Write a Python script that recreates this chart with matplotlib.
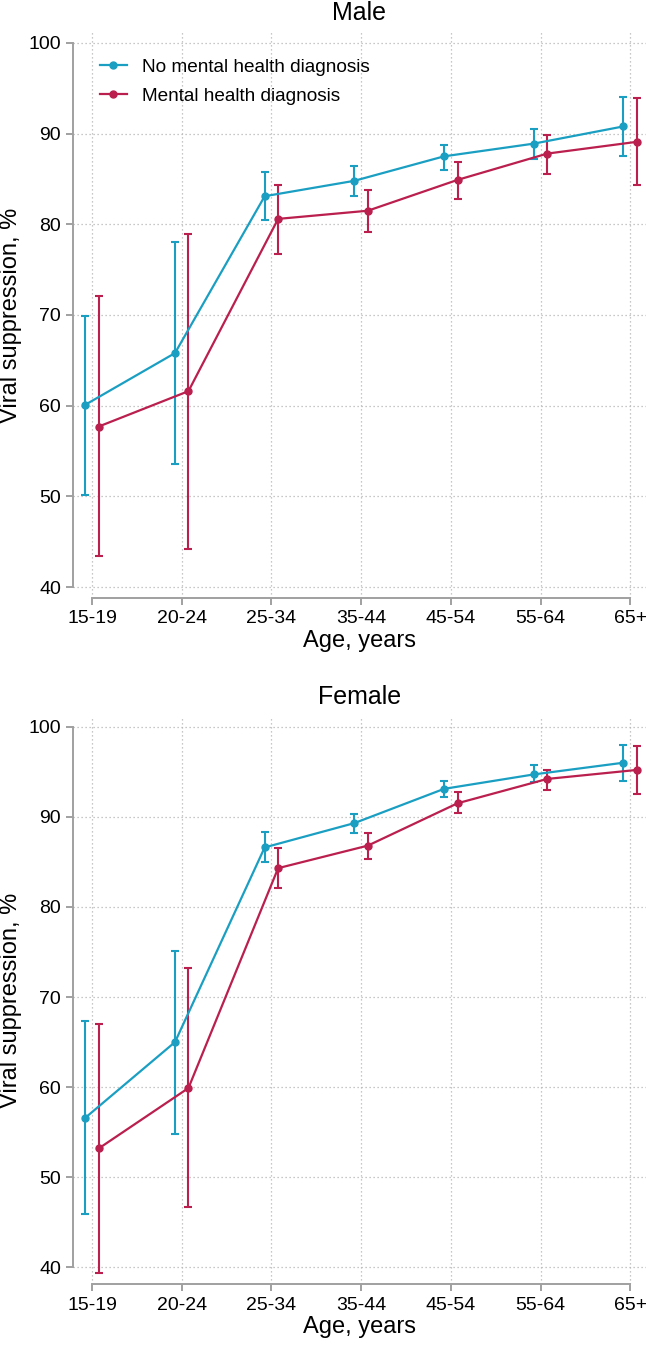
import matplotlib
matplotlib.use("Agg")
import matplotlib.pyplot as plt
import numpy as np

plt.rcParams["font.family"] = ["Liberation Sans", "DejaVu Sans"]

AGE_GROUPS = ["15-19", "20-24", "25-34", "35-44", "45-54", "55-64", "65+"]

# Male
male_no_mh = [60.1, 65.8, 83.1, 84.8, 87.5, 88.9, 90.8]
male_no_mh_lo = [50.2, 53.6, 80.5, 83.1, 86.0, 87.2, 87.5]
male_no_mh_hi = [69.9, 78.1, 85.8, 86.4, 88.8, 90.5, 94.0]
male_mh = [57.7, 61.6, 80.6, 81.5, 84.9, 87.8, 89.1]
male_mh_lo = [43.4, 44.2, 76.7, 79.1, 82.8, 85.6, 84.3]
male_mh_hi = [72.1, 78.9, 84.3, 83.8, 86.9, 89.9, 93.9]

# Female
female_no_mh = [56.6, 65.0, 86.6, 89.3, 93.1, 94.7, 96.0]
female_no_mh_lo = [45.9, 54.8, 85.0, 88.2, 92.2, 93.9, 94.0]
female_no_mh_hi = [67.3, 75.1, 88.3, 90.3, 94.0, 95.7, 98.0]
female_mh = [53.2, 59.9, 84.3, 86.8, 91.5, 94.2, 95.2]
female_mh_lo = [39.4, 46.7, 82.1, 85.3, 90.4, 93.0, 92.5]
female_mh_hi = [67.0, 73.2, 86.5, 88.2, 92.7, 95.2, 97.8]

BLUE = "#1a9fc2"
RED = "#ba1f4e"
SPINE = "#a0a0a0"


def draw_panel(ax, title, series, ylim):
    x = np.arange(len(AGE_GROUPS))
    for (label, vals, lo, hi, color, dx) in series:
        vals, lo, hi = np.array(vals), np.array(lo), np.array(hi)
        ax.errorbar(x + dx, vals, yerr=[vals - lo, hi - vals], color=color,
                    lw=1.6, elinewidth=1.5, capsize=3.2, capthick=1.5,
                    marker="o", ms=5, label=label, zorder=3)
    ax.set_xlim(-0.212, 6.176)
    ax.set_ylim(*ylim)
    ax.set_xticks(x)
    ax.set_xticklabels(AGE_GROUPS)
    ax.set_yticks(np.arange(40, 101, 10))
    ax.grid(True, ls=(0, (1, 2.2)), lw=0.9, color="#b5b5b5")
    ax.set_axisbelow(True)
    for s in ("top", "right"):
        ax.spines[s].set_visible(False)
    for s in ("left", "bottom"):
        ax.spines[s].set_color(SPINE)
        ax.spines[s].set_linewidth(1.4)
    ax.spines["left"].set_bounds(40, 100)
    ax.spines["bottom"].set_bounds(0, 6)
    ax.tick_params(axis="both", colors=SPINE, labelcolor="black",
                   labelsize=14, length=5, width=1.4)
    ax.tick_params(axis="x", pad=4)
    ax.set_title(title, fontsize=18, pad=9)
    ax.set_xlabel("Age, years", fontsize=17, labelpad=2)
    ax.set_ylabel("Viral suppression, %", fontsize=17, labelpad=5)


fig = plt.figure(figsize=(6.46, 13.45), dpi=100)
ax1 = fig.add_axes([0.113, 0.5554, 0.887, 0.4208])
ax2 = fig.add_axes([0.113, 0.0453, 0.887, 0.4218])

d = 0.075
draw_panel(ax1, "Male", [
    ("No mental health diagnosis", male_no_mh, male_no_mh_lo, male_no_mh_hi, BLUE, -d),
    ("Mental health diagnosis", male_mh, male_mh_lo, male_mh_hi, RED, d),
], (38.79, 101.21))
draw_panel(ax2, "Female", [
    ("No mental health diagnosis", female_no_mh, female_no_mh_lo, female_no_mh_hi, BLUE, -d),
    ("Mental health diagnosis", female_mh, female_mh_lo, female_mh_hi, RED, d),
], (38.15, 101.1))

handles, labels = ax1.get_legend_handles_labels()
handles = [h[0] for h in handles]
ax1.legend(handles, labels, loc="upper left", bbox_to_anchor=(0.047, 0.953),
           frameon=False, fontsize=13.7, borderpad=0, borderaxespad=0,
           handlelength=1.4, handletextpad=0.8, labelspacing=0.6)

fig.savefig("out.png", dpi=100)
